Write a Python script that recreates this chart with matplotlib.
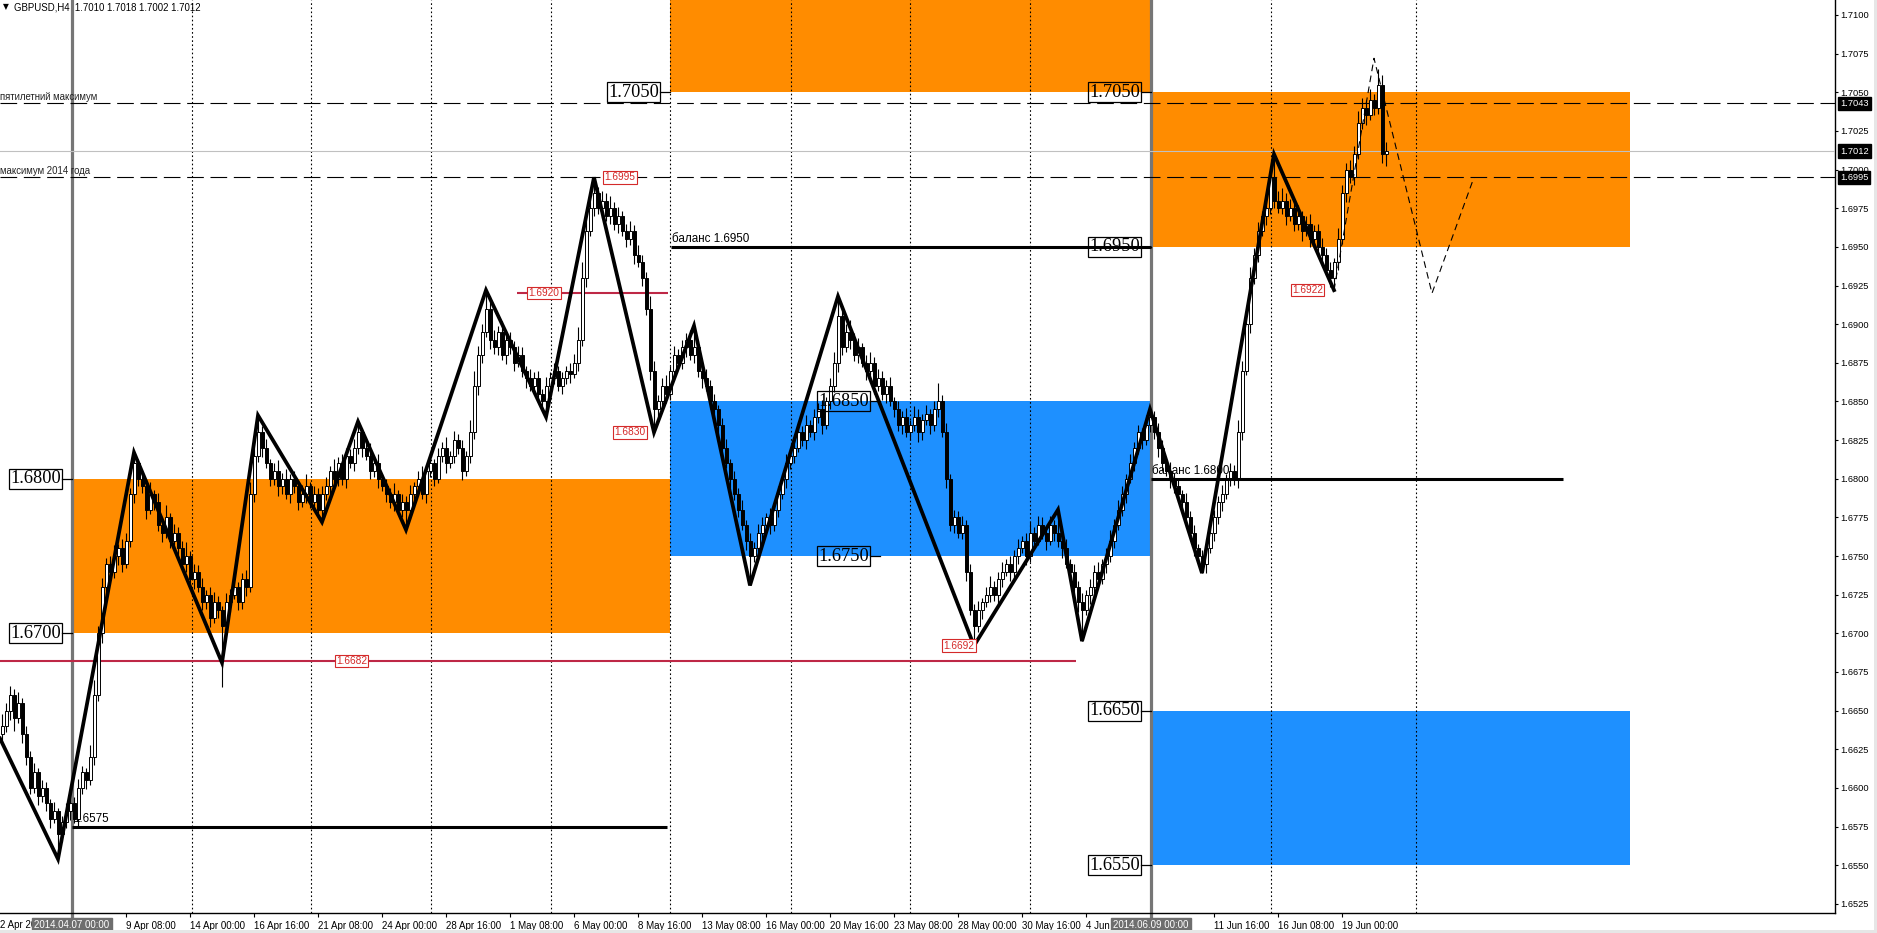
import matplotlib
matplotlib.use("Agg")
import matplotlib.pyplot as plt
from matplotlib.transforms import offset_copy, blended_transform_factory
import numpy as np

plt.rcParams['font.family'] = ['Liberation Sans', 'DejaVu Sans']

# GBPUSD H4 candles, prices in pips above 1.6000 (640 -> 1.6640); open = previous close
first_open = 635
closes = [640, 650, 660, 645, 655, 635, 620, 600, 610, 595,
          600, 590, 580, 585, 570, 578, 585, 590, 580, 600,
          610, 605, 620, 660, 700, 730, 745, 740, 750, 755,
          745, 760, 790, 810, 800, 795, 780, 790, 785, 770,
          765, 775, 760, 765, 755, 745, 750, 735, 740, 730,
          720, 725, 710, 720, 715, 705, 720, 725, 730, 720,
          735, 730, 790, 815, 830, 820, 810, 800, 805, 795,
          800, 790, 800, 795, 785, 790, 795, 785, 790, 780,
          790, 795, 805, 800, 810, 800, 815, 810, 820, 830,
          820, 815, 805, 810, 800, 795, 790, 785, 790, 780,
          785, 780, 790, 795, 800, 790, 805, 810, 800, 815,
          820, 810, 815, 825, 820, 805, 815, 830, 860, 880,
          895, 910, 890, 885, 895, 880, 890, 885, 875, 880,
          870, 865, 860, 865, 855, 850, 860, 865, 870, 860,
          865, 870, 868, 875, 890, 930, 960, 975, 985, 975,
          980, 970, 975, 965, 970, 960, 955, 960, 945, 940,
          930, 910, 870, 845, 850, 860, 855, 870, 880, 875,
          885, 890, 880, 885, 870, 865, 860, 850, 845, 835,
          820, 810, 800, 790, 780, 770, 760, 750, 755, 765,
          770, 775, 770, 780, 790, 800, 810, 815, 820, 830,
          825, 835, 830, 840, 845, 835, 850, 860, 875, 905,
          885, 895, 890, 880, 885, 875, 870, 875, 860, 865,
          855, 860, 850, 845, 835, 840, 830, 835, 840, 830,
          838, 842, 835, 845, 850, 830, 800, 770, 775, 765,
          770, 740, 715, 705, 715, 720, 725, 730, 725, 735,
          740, 745, 740, 750, 755, 760, 750, 765, 760, 770,
          765, 760, 770, 765, 760, 755, 745, 740, 730, 720,
          715, 725, 730, 740, 735, 745, 750, 760, 770, 780,
          790, 800, 810, 820, 830, 825, 835, 840, 830, 820,
          810, 805, 800, 795, 790, 785, 775, 765, 755, 750,
          745, 755, 765, 775, 785, 790, 800, 805, 800, 830,
          870, 900, 930, 945, 960, 970, 975, 995, 980, 975,
          980, 970, 975, 965, 970, 960, 965, 955, 960, 950,
          945, 935, 930, 940, 955, 985, 1000, 995, 1010, 1030,
          1040, 1035, 1045, 1040, 1055, 1010, 1012]
# upper / lower shadow beyond the body, pips
wick_up = [8, 5, 6, 4, 7, 3, 5, 4, 6, 3,
           5, 4, 3, 6, 2, 4, 5, 3, 4, 6,
           4, 3, 8, 10, 5, 6, 4, 5, 7, 3,
           6, 5, 4, 7, 3, 4, 5, 8, 3, 6,
           5, 8, 3, 6, 4, 5, 9, 3, 5, 4,
           6, 3, 5, 7, 4, 3, 6, 4, 5, 3,
           4, 6, 8, 5, 11, 4, 6, 3, 5, 7,
           4, 6, 3, 5, 4, 6, 8, 3, 5, 4,
           5, 6, 3, 8, 4, 6, 5, 4, 6, 7,
           3, 5, 8, 4, 6, 3, 5, 4, 7, 3,
           5, 4, 6, 3, 5, 8, 4, 6, 3, 5,
           4, 7, 3, 6, 4, 5, 3, 8, 10, 6,
           5, 12, 8, 6, 4, 7, 3, 5, 4, 6,
           5, 3, 6, 4, 5, 3, 6, 4, 5, 3,
           4, 3, 5, 6, 8, 10, 7, 5, 10, 4,
           6, 5, 8, 4, 6, 3, 5, 7, 4, 6,
           5, 4, 8, 6, 4, 5, 7, 3, 6, 4,
           5, 4, 6, 14, 5, 3, 6, 4, 5, 3,
           4, 6, 3, 5, 4, 6, 3, 5, 4, 6,
           5, 3, 6, 4, 5, 3, 6, 4, 5, 7,
           4, 6, 3, 5, 4, 6, 3, 5, 7, 13,
           6, 5, 8, 4, 6, 3, 5, 7, 4, 6,
           5, 4, 6, 3, 5, 4, 6, 3, 7, 5,
           4, 6, 3, 5, 12, 4, 6, 3, 5, 4,
           6, 3, 5, 4, 6, 3, 5, 7, 4, 5,
           6, 3, 5, 4, 6, 3, 5, 7, 4, 6,
           5, 4, 6, 3, 15, 4, 6, 3, 5, 4,
           6, 3, 5, 4, 6, 3, 5, 7, 4, 6,
           5, 3, 6, 4, 5, 3, 6, 5, 4, 6,
           5, 3, 6, 4, 5, 3, 6, 4, 5, 3,
           4, 6, 3, 5, 4, 6, 3, 5, 4, 8,
           6, 5, 7, 4, 6, 3, 5, 4, 15, 6,
           8, 5, 6, 4, 7, 3, 5, 6, 4, 5,
           6, 4, 5, 3, 7, 5, 4, 6, 5, 8,
           6, 5, 7, 4, 10, 6, 6]
wick_dn = [5, 4, 6, 8, 3, 6, 5, 4, 3, 6,
           4, 5, 6, 3, 16, 5, 4, 6, 3, 5,
           4, 6, 3, 5, 4, 6, 5, 3, 4, 6,
           5, 3, 4, 6, 5, 4, 6, 3, 5, 4,
           6, 3, 5, 4, 6, 3, 5, 4, 6, 3,
           5, 4, 6, 3, 5, 40, 4, 6, 3, 5,
           4, 6, 3, 5, 4, 6, 3, 5, 4, 6,
           5, 3, 6, 4, 5, 3, 6, 4, 5, 3,
           8, 4, 6, 3, 5, 4, 6, 3, 5, 4,
           6, 3, 5, 4, 6, 3, 5, 4, 6, 3,
           5, 13, 6, 4, 5, 3, 6, 4, 5, 3,
           4, 6, 3, 5, 4, 6, 3, 5, 4, 6,
           5, 3, 6, 4, 5, 3, 6, 4, 5, 3,
           4, 6, 3, 5, 4, 6, 10, 5, 4, 3,
           5, 4, 6, 3, 5, 4, 6, 3, 5, 4,
           6, 3, 5, 4, 6, 3, 5, 4, 6, 3,
           5, 4, 6, 15, 5, 3, 6, 4, 5, 3,
           4, 6, 3, 5, 4, 6, 3, 5, 4, 6,
           5, 3, 6, 4, 5, 3, 6, 19, 4, 6,
           5, 3, 6, 4, 5, 3, 6, 4, 5, 3,
           4, 6, 3, 5, 4, 6, 3, 5, 4, 6,
           5, 3, 6, 4, 5, 3, 6, 4, 5, 3,
           4, 6, 3, 5, 4, 6, 3, 5, 4, 6,
           5, 3, 6, 4, 5, 3, 6, 4, 5, 3,
           4, 6, 3, 13, 4, 6, 3, 5, 4, 6,
           5, 3, 6, 4, 5, 3, 6, 4, 5, 3,
           4, 6, 3, 5, 4, 6, 3, 5, 4, 6,
           20, 3, 6, 4, 5, 3, 6, 4, 5, 3,
           4, 6, 3, 5, 4, 6, 3, 5, 4, 6,
           5, 3, 6, 4, 5, 3, 6, 4, 5, 3,
           6, 6, 3, 5, 4, 6, 3, 5, 4, 6,
           5, 3, 6, 4, 5, 3, 6, 4, 5, 3,
           4, 6, 3, 5, 4, 6, 3, 5, 4, 6,
           5, 3, 6, 8, 5, 3, 6, 4, 5, 3,
           4, 6, 3, 5, 4, 6, 8]

# zigzag swing points (bar index, price)
zz_bars = [-0.5, 14, 33, 55, 64, 80, 89, 101, 121, 136, 148, 163, 173, 187,
           209, 243, 264, 270, 287, 300, 318, 333]
zz_prices = [1.6632, 1.6554, 1.6817, 1.6681, 1.6841, 1.6772, 1.6837, 1.6767,
             1.6922, 1.6840, 1.6995, 1.6830, 1.6899, 1.6731, 1.6918, 1.6692,
             1.6780, 1.6695, 1.6845, 1.6739, 1.7010, 1.6922]
# projected path (thin dashed)
proj_bars = [333, 343, 357.5, 368]
proj_prices = [1.6922, 1.7072, 1.6920, 1.6995]

# zones
zone_x0 = [17.5, 167, 167, 287.25, 287.25]
zone_x1 = [167, 287.25, 287.25, 407, 407]
zone_lo = [1.6700, 1.7050, 1.6750, 1.6950, 1.6550]
zone_hi = [1.6800, 1.7200, 1.6850, 1.7050, 1.6650]
zone_kind = ["sell", "sell", "buy", "sell", "buy"]

# balance lines
bal_x0 = [17.5, 167.25, 287.25]
bal_x1 = [166.3, 287.25, 390.3]
bal_price = [1.6575, 1.6950, 1.6800]
bal_text = ["1.6575", "баланс 1.6950", "баланс 1.6800"]

# red level lines
red_x0 = [-0.5, 128.8]
red_x1 = [268.5, 166.5]
red_price = [1.6682, 1.6920]

# red price tags
tag_bars = [87.4, 135.5, 154.5, 157, 239.25, 326.4]
tag_prices = [1.6682, 1.6920, 1.6995, 1.6830, 1.6692, 1.6922]

# boxed zone levels
lvl_bars = [17.5, 17.5, 167, 219.5, 219.5, 287.25, 287.25, 287.25, 287.25]
lvl_prices = [1.6800, 1.6700, 1.7050, 1.6850, 1.6750, 1.7050, 1.6950, 1.6650, 1.6550]

# dashed key levels
key_prices = [1.7043, 1.6995]
key_names = ["пятилетний максимум", "максимум 2014 года"]
bid_price = 1.7012

price_ticks = [1.6525, 1.6550, 1.6575, 1.6600, 1.6625, 1.6650, 1.6675, 1.6700,
               1.6725, 1.6750, 1.6775, 1.6800, 1.6825, 1.6850, 1.6875, 1.6900,
               1.6925, 1.6950, 1.6975, 1.7000, 1.7025, 1.7050, 1.7075, 1.7100]
time_ticks = [31, 47, 63, 79, 95, 111, 127, 143, 159, 175, 191, 207, 223, 239,
              255, 271, 303, 319, 335]
time_labels = ["9 Apr 08:00", "14 Apr 00:00", "16 Apr 16:00", "21 Apr 08:00",
               "24 Apr 00:00", "28 Apr 16:00", "1 May 08:00", "6 May 00:00",
               "8 May 16:00", "13 May 08:00", "16 May 00:00", "20 May 16:00",
               "23 May 08:00", "28 May 00:00", "30 May 16:00", "4 Jun",
               "11 Jun 16:00", "16 Jun 08:00", "19 Jun 00:00"]
week_seps = [47.4, 77.3, 107.3, 137.3, 167, 197.3, 227, 257, 317.3, 353.5]
marked_bars = [17.5, 287.25]
marked_labels = ["2014.04.07 00:00", "2014.06.09 00:00"]

ORANGE = "#FF8C00"
BLUE = "#1E90FF"
RED_LINE = "#BE2846"
RED_TXT = "#D42A2A"

fig = plt.figure(figsize=(18.77, 9.33), dpi=100)
ax = fig.add_axes([0, 20 / 933, 1835 / 1877, 913 / 933])
ax.set_xlim(-0.5, 458.25)
ax.set_ylim(1.65191, 1.71097)
for s in ["top", "left"]:
    ax.spines[s].set_visible(False)
ax.spines["right"].set_linewidth(1.0)
ax.spines["bottom"].set_linewidth(1.0)

# zones
for x0, x1, lo, hi, k in zip(zone_x0, zone_x1, zone_lo, zone_hi, zone_kind):
    ax.add_patch(plt.Rectangle((x0, lo), x1 - x0, hi - lo, lw=0,
                               color=ORANGE if k == "sell" else BLUE, zorder=1))

# week separators and marker lines
for x in week_seps:
    ax.axvline(x, color="black", lw=0.8, ls=(0, (1.5, 2.2)), zorder=2)
for x in marked_bars:
    ax.axvline(x, ymin=-0.012, ymax=1, color="#767676", lw=2.3, zorder=2.2, clip_on=False)

# key levels
for p in key_prices:
    ax.axhline(p, color="black", lw=0.8, ls=(0, (15, 6)), zorder=3)
ax.axhline(bid_price, color="#C0C0C0", lw=0.8, zorder=2.6)
tr_up = offset_copy(ax.transData, fig=fig, x=0, y=1, units="dots")
for p, name in zip(key_prices, key_names):
    ax.text(-0.5, p, name, transform=tr_up, fontsize=6.9, color="#222222",
            ha="left", va="bottom", zorder=7)

# red levels
for x0, x1, p in zip(red_x0, red_x1, red_price):
    ax.plot([x0, x1], [p, p], color=RED_LINE, lw=1.5, zorder=3.5, solid_capstyle="butt")

# candles
c = np.array(closes, dtype=float)
o = np.concatenate([[first_open], c[:-1]])
hi = np.maximum(o, c) + np.array(wick_up)
lo = np.minimum(o, c) - np.array(wick_dn)
c, o, hi, lo = (1.6 + v / 10000 for v in (c, o, hi, lo))
xs = np.arange(len(closes))
ax.vlines(xs, lo, hi, color="black", lw=0.8, zorder=4)
body = np.maximum(np.abs(c - o), 0.00004)
bull = c >= o
ax.bar(xs[bull], body[bull], bottom=np.minimum(o, c)[bull], width=0.75,
       color="white", edgecolor="black", lw=0.7, zorder=4.2)
ax.bar(xs[~bull], body[~bull], bottom=np.minimum(o, c)[~bull], width=0.75,
       color="black", edgecolor="black", lw=0.7, zorder=4.2)

# balance lines
tr_txt = offset_copy(ax.transData, fig=fig, x=1, y=2, units="dots")
for x0, x1, p, t in zip(bal_x0, bal_x1, bal_price, bal_text):
    ax.plot([x0, x1], [p, p], color="black", lw=2.2, zorder=5, solid_capstyle="butt")
    ax.text(x0, p, t, transform=tr_txt, fontsize=8.4, ha="left", va="bottom", zorder=7)

# zigzag + projection
ax.plot(zz_bars, zz_prices, color="black", lw=2.7, zorder=6, solid_joinstyle="miter")
ax.plot(proj_bars, proj_prices, color="black", lw=0.8, ls=(0, (6, 4)), zorder=6)

# red tags
for x, p in zip(tag_bars, tag_prices):
    ax.text(x, p, f"{p:.4f}", fontsize=7.3, color=RED_TXT, ha="center", va="center",
            zorder=8, bbox=dict(boxstyle="square,pad=0.12", fc="white", ec=RED_TXT, lw=0.8))

# boxed zone levels
tr_lvl = offset_copy(ax.transData, fig=fig, x=-11, y=0, units="dots")
for x, p in zip(lvl_bars, lvl_prices):
    ax.plot([x - 2.4, x], [p, p], color="black", lw=0.9, zorder=5.5)
    ax.text(x, p, f"{p:.4f}", transform=tr_lvl, family="Liberation Serif", fontsize=13.2,
            ha="right", va="center", zorder=5.2,
            bbox=dict(boxstyle="square,pad=0.08", fc="none", ec="black", lw=0.9))

# price axis
ax.yaxis.tick_right()
ax.set_yticks(price_ticks, [f"{p:.4f}" for p in price_ticks])
ax.tick_params(axis="y", direction="out", length=2.5, width=0.8, pad=1.5, labelsize=6.7)
ytr = blended_transform_factory(ax.transAxes, ax.transData)
for p in [key_prices[0], bid_price, key_prices[1]]:
    ax.text(1.0 + 5 / 1835, p, f"{p:.4f}", transform=ytr, fontsize=6.7, color="white",
            ha="left", va="center", clip_on=False, zorder=10,
            bbox=dict(boxstyle="square,pad=0.22", fc="black", ec="black"))

# time axis
ax.set_xticks(time_ticks, time_labels)
ax.tick_params(axis="x", direction="out", length=3, width=0.8, pad=2.5, labelsize=7)
for t in ax.get_xticklabels():
    t.set_ha("left")
xtr = blended_transform_factory(ax.transData, ax.transAxes)
ax.text(-0.5, -0.0075, "2 Apr 20", transform=xtr, fontsize=7, ha="left", va="top",
        clip_on=False, zorder=9)
for x, t in zip(marked_bars, marked_labels):
    ax.text(x, -0.0075, t, transform=xtr, fontsize=7, color="white", ha="center",
            va="top", clip_on=False, zorder=10,
            bbox=dict(boxstyle="square,pad=0.2", fc="#6E6E6E", ec="#6E6E6E"))

# header
fig.text(3 / 1877, 1 - 7 / 933, "▼", family="DejaVu Sans", fontsize=5.5, va="center")
fig.text(14 / 1877, 1 - 7 / 933, "GBPUSD,H4  1.7010 1.7018 1.7002 1.7012",
         fontsize=6.9, va="center")

# window frame
fig.add_artist(plt.Rectangle((1874 / 1877, 0), 3 / 1877, 1, transform=fig.transFigure,
                             color="#E6E6E6", lw=0))
fig.add_artist(plt.Rectangle((0, 0), 1, 3 / 933, transform=fig.transFigure,
                             color="#E6E6E6", lw=0))

fig.savefig("out.png", dpi=100, facecolor="white")
